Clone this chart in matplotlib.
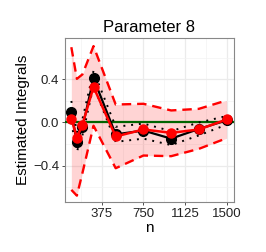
import matplotlib
matplotlib.use("Agg")
import matplotlib.pyplot as plt

plt.rcParams['font.family'] = ['Liberation Sans', 'DejaVu Sans']

# sample sizes
n = [100, 150, 200, 300, 500, 750, 1000, 1250, 1500]

# black estimate and its dotted band
est_black = [0.095, -0.18, -0.045, 0.41, -0.11, -0.075, -0.15, -0.06, 0.02]
black_hi = [0.20, -0.09, 0.03, 0.48, -0.04, -0.01, -0.08, 0.00, 0.06]
black_lo = [0.00, -0.27, -0.12, 0.34, -0.18, -0.15, -0.21, -0.12, -0.02]

# red estimate and its dashed ribbon
est_red = [0.037, -0.14, -0.02, 0.33, -0.13, -0.065, -0.096, -0.065, 0.028]
red_hi = [0.70, 0.406, 0.447, 0.71, 0.167, 0.174, 0.112, 0.127, 0.205]
red_lo = [-0.626, -0.68, -0.47, -0.03, -0.425, -0.307, -0.313, -0.245, -0.146]

fig = plt.figure(figsize=(2.66, 2.52), dpi=100)
ax = fig.add_axes([0.244, 0.198, 0.635, 0.651])

# grid like theme_bw
for v in [187.5, 562.5, 937.5, 1312.5]:
    ax.axvline(v, color="#f3f3f3", lw=0.5, zorder=0)
for v in [375, 750, 1125, 1500]:
    ax.axvline(v, color="#ebebeb", lw=0.9, zorder=0)
for v in [-0.6, -0.2, 0.2, 0.6]:
    ax.axhline(v, color="#f3f3f3", lw=0.5, zorder=0)
for v in [-0.4, 0.0, 0.4]:
    ax.axhline(v, color="#ebebeb", lw=0.9, zorder=0)

ax.fill_between(n, red_lo, red_hi, color="#ff0000", alpha=0.17, lw=0, zorder=1)
ax.plot(n, red_hi, color="red", lw=1.7, ls=(0, (4, 2.5)), zorder=2)
ax.plot(n, red_lo, color="red", lw=1.7, ls=(0, (4, 2.5)), zorder=2)

ax.axhline(0, color="#006400", lw=1.6, zorder=3)

ax.plot(n, black_hi, color="black", lw=1.4, ls=(0, (1, 3)), zorder=4)
ax.plot(n, black_lo, color="black", lw=1.4, ls=(0, (1, 3)), zorder=4)
ax.plot(n, est_black, color="black", lw=1.6, marker="o", ms=7, zorder=5)
ax.plot(n, est_red, color="red", lw=1.8, marker="o", ms=6.5, zorder=6)

ax.set_xlim(42, 1565)
ax.set_ylim(-0.74, 0.785)
ax.set_xticks([375, 750, 1125, 1500])
ax.set_yticks([-0.4, 0.0, 0.4])
ax.set_yticklabels(["\u22120.4", "0.0", "0.4"])
ax.tick_params(labelsize=9.5, color="#333333", length=2.5, width=0.6, pad=1.5,
               labelcolor="#222222")
for s in ax.spines.values():
    s.set_color("#888888")
    s.set_linewidth(0.8)

ax.set_title("Parameter 8", fontsize=12, pad=4)
ax.set_xlabel("n", fontsize=11, labelpad=1)
ax.set_ylabel("Estimated Integrals", fontsize=11, labelpad=2)

fig.savefig("out.png", dpi=100)
